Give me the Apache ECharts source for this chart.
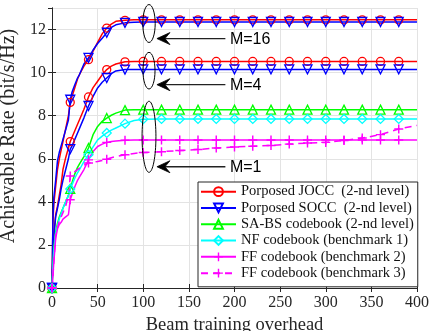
<!DOCTYPE html>
<html><head><meta charset="utf-8">
<script src="https://cdn.jsdelivr.net/npm/echarts@6/dist/echarts.min.js"></script>
<style>html,body{margin:0;padding:0;background:#fff}#c{width:430px;height:331px}</style>
</head><body><div id="c"></div><script>
// Beam training overhead sample points
const overheadX = [0, 1, 2, 4, 6, 8, 10, 12, 15, 18, 20, 22, 25, 28, 30, 35, 40, 45, 50, 55, 60, 65, 70, 80, 90, 100, 120, 140, 160, 180, 200, 220, 240, 260, 280, 300, 320, 340, 360, 380, 400];
// Achievable rate (bit/s/Hz)
const joccM16 = [0, 3.0, 3.9, 4.7, 5.5, 6.0, 6.4, 6.8, 7.4, 8.0, 8.62, 8.9, 9.3, 9.7, 9.9, 10.3, 10.6, 11.0, 11.4, 11.8, 12.07, 12.25, 12.38, 12.43, 12.45, 12.45, 12.45, 12.45, 12.45, 12.45, 12.45, 12.45, 12.45, 12.45, 12.45, 12.45, 12.45, 12.45, 12.45, 12.45, 12.45];
const soccM16 = [0, 3.2, 4.2, 5.0, 5.9, 6.3, 6.6, 6.9, 7.35, 7.8, 8.74, 9.1, 9.44, 9.75, 9.9, 10.4, 10.68, 11.05, 11.35, 11.6, 11.85, 12.1, 12.22, 12.31, 12.34, 12.35, 12.35, 12.35, 12.35, 12.35, 12.35, 12.35, 12.35, 12.35, 12.35, 12.35, 12.35, 12.35, 12.35, 12.35, 12.35];
const joccM4 = [0, 1.5, 2.5, 3.4, 3.8, 4.3, 4.8, 5.5, 6.05, 6.5, 6.8, 7.0, 7.3, 7.6, 7.8, 8.3, 8.87, 9.3, 9.6, 9.9, 10.14, 10.3, 10.4, 10.5, 10.52, 10.52, 10.52, 10.52, 10.52, 10.52, 10.52, 10.52, 10.52, 10.52, 10.52, 10.52, 10.52, 10.52, 10.52, 10.52, 10.52];
const soccM4 = [0, 1.4, 2.4, 3.3, 3.7, 4.1, 4.6, 5.0, 5.5, 6.0, 6.45, 6.6, 6.9, 7.2, 7.4, 7.9, 8.45, 8.9, 9.29, 9.55, 9.75, 9.95, 10.08, 10.14, 10.15, 10.15, 10.15, 10.15, 10.15, 10.15, 10.15, 10.15, 10.15, 10.15, 10.15, 10.15, 10.15, 10.15, 10.15, 10.15, 10.15];
const sabsM1 = [0, 1.0, 1.9, 2.6, 3.0, 3.3, 3.5, 3.7, 4.0, 4.3, 4.6, 4.9, 5.3, 5.6, 5.75, 6.1, 6.5, 7.12, 7.5, 7.74, 7.89, 8.02, 8.12, 8.26, 8.28, 8.28, 8.28, 8.28, 8.28, 8.28, 8.28, 8.28, 8.28, 8.28, 8.28, 8.28, 8.28, 8.28, 8.28, 8.28, 8.28];
const nfM1 = [0, 0.9, 1.7, 2.5, 2.9, 3.2, 3.45, 3.7, 4.0, 4.3, 4.6, 4.8, 5.1, 5.35, 5.49, 5.87, 6.19, 6.55, 6.88, 7.05, 7.2, 7.33, 7.43, 7.63, 7.78, 7.84, 7.85, 7.85, 7.85, 7.85, 7.85, 7.85, 7.85, 7.85, 7.85, 7.85, 7.85, 7.85, 7.85, 7.85, 7.85];
const ffB2M1 = [0, 0.6, 1.2, 2.3, 2.75, 2.95, 3.05, 3.2, 3.3, 3.4, 4.1, 4.35, 4.7, 5.0, 5.15, 5.5, 5.95, 6.34, 6.57, 6.68, 6.76, 6.8, 6.82, 6.86, 6.87, 6.87, 6.87, 6.87, 6.87, 6.87, 6.87, 6.87, 6.87, 6.87, 6.87, 6.87, 6.87, 6.87, 6.87, 6.87, 6.87];
const ffB3M1 = [0, 0.5, 1.2, 2.4, 2.8, 3.1, 3.3, 3.5, 3.8, 4.3, 5.2, 5.3, 5.4, 5.5, 5.55, 5.7, 5.8, 5.84, 5.87, 5.92, 5.98, 6.05, 6.1, 6.19, 6.25, 6.29, 6.33, 6.38, 6.43, 6.5, 6.55, 6.58, 6.62, 6.68, 6.73, 6.76, 6.85, 6.96, 7.12, 7.38, 7.55];
const markerStep = 20;
const legendNames = ['Porposed JOCC  (2-nd level)', 'Porposed SOCC  (2-nd level)', 'SA-BS codebook (2-nd level)', 'NF codebook (benchmark 1)', 'FF codebook (benchmark 2)', 'FF codebook (benchmark 3)'];
// annotations (data coordinates)
const groupLabels = ['M=16', 'M=4', 'M=1'];
const ellipseCx = [106.3, 106.3, 106.3];
const ellipseCy = [12.28, 10.09, 7.02];
const ellipseRy = [0.88, 0.85, 1.65];
const ellipseRx = [6.8, 6.6, 7.6];
const arrowY = [11.58, 9.44, 5.63];
const arrowTipX = 115, arrowEndX = 190, labelX = 195;

const plusPath = 'path://M4.2,0H5.8V4.2H10V5.8H5.8V10H4.2V5.8H0V4.2H4.2Z';
function pts(ys) {
  return overheadX.map((x, i) => (x % markerStep === 0 && x < 400) ? [x, ys[i]] : { value: [x, ys[i]], symbol: 'none' });
}
function mk(name, ys, color, symbol, size, extra) {
  return Object.assign({
    type: 'line', name: name, data: pts(ys), symbol: symbol, symbolSize: size, showAllSymbol: true,
    lineStyle: { color: color, width: 1.5 },
    itemStyle: { color: 'rgba(255,255,255,0)', borderColor: color, borderWidth: 1.3 },
    emphasis: { disabled: true }, animation: false
  }, extra || {});
}
const plusStyle = c => ({ itemStyle: { color: c, borderWidth: 0 } });

const chart = echarts.init(document.getElementById('c'), null, { renderer: 'canvas' });
const axisCol = '#262626';
const serif = 'Liberation Serif';
chart.setOption({
  animation: false,
  grid: { left: 52, right: 13, top: 8, bottom: 43, containLabel: false, outerBoundsMode: 'none' },
  xAxis: [{
    type: 'value', min: 0, max: 400, interval: 50,
    name: 'Beam training overhead', nameLocation: 'middle', nameGap: 25,
    nameTextStyle: { fontFamily: serif, fontSize: 18.5, color: axisCol },
    axisLine: { lineStyle: { color: axisCol, width: 1 } },
    axisTick: { inside: true, length: 4, lineStyle: { color: axisCol } },
    axisLabel: { fontFamily: serif, fontSize: 16, color: axisCol, margin: 7 },
    splitLine: { show: true, lineStyle: { color: '#e3e3e3', width: 1 } }
  }, {
    type: 'value', min: 0, max: 400, interval: 50, position: 'top',
    axisLine: { show: true, lineStyle: { color: axisCol } },
    axisTick: { inside: true, length: 4, lineStyle: { color: axisCol } },
    axisLabel: { show: false }, splitLine: { show: false }
  }],
  yAxis: [{
    type: 'value', min: 0, max: 13, interval: 2,
    name: 'Achievable Rate (bit/s/Hz)', nameLocation: 'middle', nameGap: 24,
    nameTextStyle: { fontFamily: serif, fontSize: 20, color: axisCol, padding: [0, 0, 0, 24] },
    axisLine: { show: true, lineStyle: { color: axisCol } },
    axisTick: { inside: true, length: 4, lineStyle: { color: axisCol } },
    axisLabel: { fontFamily: serif, fontSize: 16, color: axisCol, margin: 6, showMaxLabel: false },
    splitLine: { show: true, lineStyle: { color: '#e3e3e3', width: 1 } }
  }, {
    type: 'value', min: 0, max: 13, interval: 2, position: 'right',
    axisLine: { show: true, lineStyle: { color: axisCol } },
    axisTick: { inside: true, length: 4, lineStyle: { color: axisCol } },
    axisLabel: { show: false }, splitLine: { show: false }
  }],
  legend: {
    orient: 'vertical', left: 198, top: 182, data: legendNames,
    itemWidth: 35, itemHeight: 11, itemGap: 1, padding: [2, 4, 6, 2],
    backgroundColor: '#fff', borderColor: axisCol, borderWidth: 1,
    textStyle: { fontFamily: serif, fontSize: 14.5, lineHeight: 15.3, color: '#111' },
    selectedMode: false
  },
  series: [
    mk(legendNames[0], joccM16, '#ff0000', 'circle', 8),
    mk(legendNames[0], joccM4, '#ff0000', 'circle', 8),
    mk(legendNames[1], soccM16, '#0000ff', 'triangle', 9, { symbolRotate: 180 }),
    mk(legendNames[1], soccM4, '#0000ff', 'triangle', 9, { symbolRotate: 180 }),
    mk(legendNames[2], sabsM1, '#00ff00', 'triangle', 9),
    mk(legendNames[3], nfM1, '#00ffff', 'diamond', 9),
    mk(legendNames[4], ffB2M1, '#ff00ff', plusPath, 9, plusStyle('#ff00ff')),
    mk(legendNames[5], ffB3M1, '#ff00ff', plusPath, 9, Object.assign(plusStyle('#ff00ff'), { lineStyle: { color: '#ff00ff', width: 1.5, type: [7, 5] } }))
  ]
});

const px = (x, y) => chart.convertToPixel({ xAxisIndex: 0, yAxisIndex: 0 }, [x, y]);
const g = [];
for (let i = 0; i < groupLabels.length; i++) {
  const c = px(ellipseCx[i], ellipseCy[i]);
  const t = px(ellipseCx[i] + ellipseRx[i], ellipseCy[i] + ellipseRy[i]);
  g.push({ type: 'ellipse', shape: { cx: c[0], cy: c[1], rx: t[0] - c[0], ry: c[1] - t[1] },
    style: { fill: 'none', stroke: '#000', lineWidth: 1 }, z: 50 });
  const a = px(arrowTipX, arrowY[i]);
  const e = px(arrowEndX, arrowY[i]);
  g.push({ type: 'line', shape: { x1: a[0] + 8, y1: a[1], x2: e[0], y2: e[1] },
    style: { stroke: '#222', lineWidth: 1.3 }, z: 50 });
  g.push({ type: 'polygon', shape: { points: [[a[0], a[1]], [a[0] + 13, a[1] - 6], [a[0] + 8, a[1]], [a[0] + 13, a[1] + 6]] },
    style: { fill: '#000', stroke: '#000', lineWidth: 0.8 }, z: 50 });
  const l = px(labelX, arrowY[i]);
  g.push({ type: 'text', x: l[0], y: l[1] + 1, style: { text: groupLabels[i], fontFamily: 'Liberation Sans', fontSize: 16, fill: '#000', verticalAlign: 'middle', align: 'left' }, z: 50 });
}
chart.setOption({ graphic: g });
</script></body></html>
